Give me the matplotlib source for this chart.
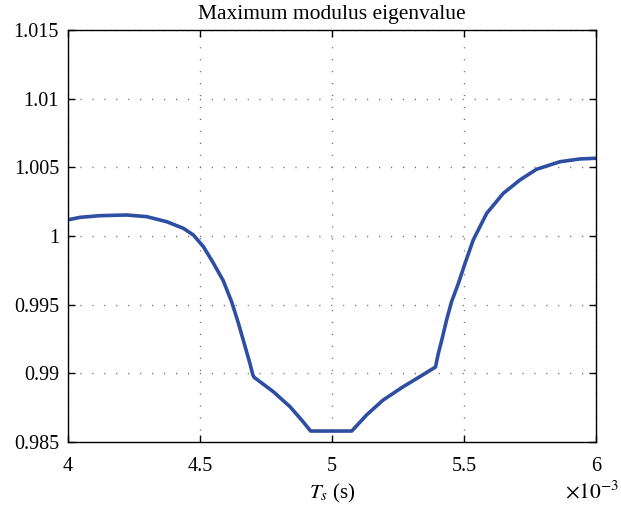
import matplotlib
matplotlib.use("Agg")
import matplotlib.pyplot as plt
from matplotlib.ticker import FuncFormatter

plt.rcParams['font.family'] = ['Liberation Serif', 'DejaVu Serif']
plt.rcParams['mathtext.fontset'] = 'stix'

# Sampling period (s) and maximum modulus eigenvalue
ts = [4.000e-3, 4.046e-3, 4.121e-3, 4.222e-3, 4.298e-3, 4.374e-3, 4.437e-3,
      4.475e-3, 4.513e-3, 4.550e-3, 4.588e-3, 4.620e-3, 4.645e-3, 4.671e-3,
      4.689e-3, 4.700e-3, 4.705e-3, 4.778e-3, 4.841e-3, 4.885e-3, 4.919e-3,
      5.000e-3, 5.075e-3, 5.131e-3, 5.194e-3, 5.270e-3, 5.333e-3, 5.392e-3,
      5.403e-3, 5.416e-3, 5.434e-3, 5.453e-3, 5.479e-3, 5.504e-3, 5.535e-3,
      5.586e-3, 5.649e-3, 5.712e-3, 5.775e-3, 5.864e-3, 5.939e-3, 6.000e-3]
eig = [1.00118, 1.00136, 1.00148, 1.00153, 1.00141, 1.00104, 1.00056,
       1.00007, 0.99922, 0.99805, 0.99675, 0.99520, 0.99368, 0.99194,
       0.99073, 0.98990, 0.98971, 0.98866, 0.98757, 0.98660, 0.98580,
       0.98580, 0.98580, 0.98697, 0.98806, 0.98903, 0.98976, 0.99046,
       0.99146, 0.99243, 0.99388, 0.99522, 0.99656, 0.99801, 0.99971,
       1.00165, 1.00311, 1.00408, 1.00486, 1.00541, 1.00561, 1.00566]

xticks = [4e-3, 4.5e-3, 5e-3, 5.5e-3, 6e-3]
yticks = [0.985, 0.99, 0.995, 1.0, 1.005, 1.01, 1.015]

fig = plt.figure(figsize=(6.21, 5.12), dpi=100)
ax = fig.add_axes([0.1095, 0.1367, 0.8502, 0.8047])

ax.plot(ts, eig, '-', color='#2D4EA2', lw=2.6, solid_capstyle='round',
        solid_joinstyle='round')

ax.set_xlim(4e-3, 6e-3)
ax.set_ylim(0.985, 1.015)
ax.set_xticks(xticks)
ax.set_yticks(yticks)
ax.xaxis.set_major_formatter(FuncFormatter(lambda v, p: '%g' % round(v * 1e3, 4)))
ax.yaxis.set_major_formatter(FuncFormatter(lambda v, p: '%g' % round(v, 4)))
ax.tick_params(direction='in', length=5, width=1, top=True, right=True,
               labelsize=14.5)
ax.tick_params(axis='x', pad=11)
ax.tick_params(axis='y', pad=6.5)
ax.grid(True, linestyle=(0, (0.8, 7.8)), color='#6a6a6a', lw=1.0)
for s in ax.spines.values():
    s.set_linewidth(1.0)

ax.set_title('Maximum modulus eigenvalue', fontsize=15.5, pad=8)
ax.set_xlabel('$T_s$ (s)', fontsize=15, labelpad=4)
ax.text(0.993, -0.121, r'$\times10^{-3}$', transform=ax.transAxes,
        fontsize=15.5, ha='center', va='center')

fig.savefig('out.png', dpi=100)
